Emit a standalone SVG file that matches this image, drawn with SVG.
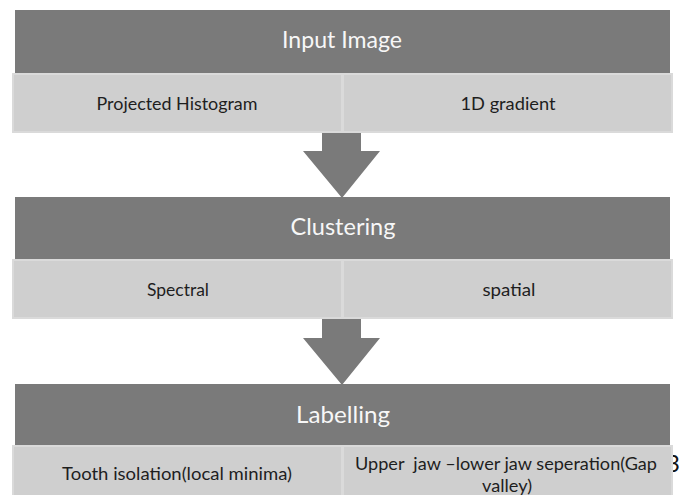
<svg xmlns="http://www.w3.org/2000/svg" width="692" height="495" viewBox="0 0 692 495">
  <style>
    .head { fill: #7a7a7a; }
    .cell { fill: #cfcfcf; stroke: #dadada; stroke-width: 2; }
    .arrow { fill: #7a7a7a; }
    .htext { font-family: Lato, "Liberation Sans", sans-serif; font-size: 23px; fill: #f7f7f7; text-anchor: middle; }
    .ctext { font-family: Lato, "Liberation Sans", sans-serif; font-size: 18px; fill: #1e1e1e; text-anchor: middle; }
  </style>
  <rect width="692" height="495" fill="#ffffff"/>

  <!-- stray glyph peeking out from behind the last row -->
  <text x="666" y="472" font-family="Lato, 'Liberation Sans', sans-serif" font-size="24" fill="#111">3</text>

  <g id="connectors">
    <polygon class="arrow" points="322,132 361,132 361,151 380,151 342,198 303,151 322,151"/>
    <polygon class="arrow" points="322,318 361,318 361,338 380,338 342,385 303,338 322,338"/>
  </g>

  <g id="input-image">
    <rect class="head" x="15" y="10" width="655" height="63"/>
    <text class="htext" x="342" y="48" textLength="120" lengthAdjust="spacingAndGlyphs">Input Image</text>
  </g>
  <g id="projected-histogram">
    <rect class="cell" x="13" y="74" width="329" height="58"/>
    <text class="ctext" x="177" y="110" textLength="161" lengthAdjust="spacingAndGlyphs">Projected Histogram</text>
  </g>
  <g id="gradient-1d">
    <rect class="cell" x="343" y="74" width="329" height="58"/>
    <text class="ctext" x="508" y="110" textLength="95" lengthAdjust="spacingAndGlyphs">1D gradient</text>
  </g>

  <g id="clustering">
    <rect class="head" x="15" y="197" width="655" height="62"/>
    <text class="htext" x="343" y="235" textLength="105" lengthAdjust="spacingAndGlyphs">Clustering</text>
  </g>
  <g id="spectral">
    <rect class="cell" x="13" y="260" width="329" height="58"/>
    <text class="ctext" x="178" y="296" textLength="62" lengthAdjust="spacingAndGlyphs">Spectral</text>
  </g>
  <g id="spatial">
    <rect class="cell" x="343" y="260" width="329" height="58"/>
    <text class="ctext" x="509" y="296" textLength="53" lengthAdjust="spacingAndGlyphs">spatial</text>
  </g>

  <g id="labelling">
    <rect class="head" x="15" y="384" width="655" height="61"/>
    <text class="htext" x="343" y="423" textLength="94" lengthAdjust="spacingAndGlyphs">Labelling</text>
  </g>
  <g id="tooth-isolation">
    <rect class="cell" x="13" y="446" width="329" height="60"/>
    <text class="ctext" x="177" y="480" textLength="230" lengthAdjust="spacingAndGlyphs">Tooth isolation(local minima)</text>
  </g>
  <g id="jaw-separation">
    <rect class="cell" x="343" y="446" width="329" height="60"/>
    <text class="ctext" x="506" y="470" textLength="302" lengthAdjust="spacingAndGlyphs" xml:space="preserve">Upper  jaw –lower jaw seperation(Gap</text>
    <text class="ctext" x="507" y="492" textLength="50" lengthAdjust="spacingAndGlyphs">valley)</text>
  </g>
</svg>
